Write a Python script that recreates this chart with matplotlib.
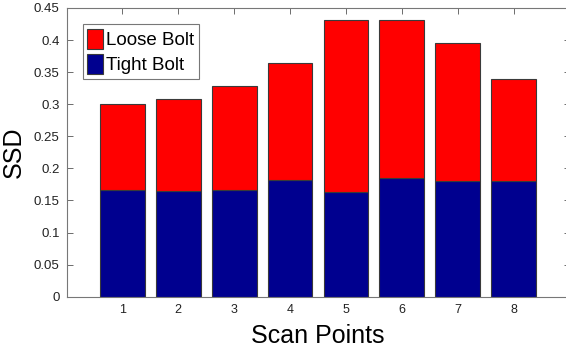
import matplotlib
matplotlib.use("Agg")
import matplotlib.pyplot as plt

scan_points = [1, 2, 3, 4, 5, 6, 7, 8]
tight_bolt = [0.167, 0.165, 0.166, 0.182, 0.163, 0.185, 0.180, 0.181]
loose_bolt = [0.133, 0.143, 0.163, 0.183, 0.269, 0.247, 0.216, 0.158]
yticks = [0, 0.05, 0.1, 0.15, 0.2, 0.25, 0.3, 0.35, 0.4, 0.45]
ytick_labels = ["0", "0.05", "0.1", "0.15", "0.2", "0.25", "0.3", "0.35", "0.4", "0.45"]

plt.rcParams['font.family'] = ['Liberation Sans', 'DejaVu Sans']

W, H = 566, 347
fig = plt.figure(figsize=(W / 100, H / 100), dpi=100)
left, right, top, bottom = 66.5, 569.5, 8, 296.7
ax = fig.add_axes([left / W, 1 - bottom / H, (right - left) / W, (bottom - top) / H])

edge = '#3a3a3a'
b1 = ax.bar(scan_points, tight_bolt, width=0.8, color='#00008F', edgecolor=edge, linewidth=0.8, zorder=2)
b2 = ax.bar(scan_points, loose_bolt, width=0.8, bottom=tight_bolt, color='#FF0000', edgecolor=edge,
            linewidth=0.8, zorder=2)

ax.set_xlim(0, 9)
ax.set_ylim(0, 0.45)
ax.set_xticks(scan_points)
ax.set_xticklabels([str(s) for s in scan_points], fontsize=9, color='#222222')
ax.set_yticks(yticks)
ax.set_yticklabels(ytick_labels, fontsize=9.5, color='#222222')
ax.tick_params(direction='in', length=4, width=0.6, color='#555555', top=True, right=True, pad=5)
for s in ax.spines.values():
    s.set_color('#777777')
    s.set_linewidth(0.8)

ax.set_xlabel('Scan Points', fontsize=18, labelpad=6)
ax.set_ylabel('SSD', fontsize=18, labelpad=6)

leg = ax.legend([b2, b1], ['Loose Bolt', 'Tight Bolt'], loc='upper left', bbox_to_anchor=(0.032, 0.945),
                fontsize=13.5, frameon=True, fancybox=False, handlelength=0.85, handleheight=1.3,
                handletextpad=0.15, borderpad=0.25, labelspacing=0.25, borderaxespad=0)
leg.get_frame().set_edgecolor('#555555')
leg.get_frame().set_linewidth(0.8)

fig.savefig('out.png', dpi=100)
